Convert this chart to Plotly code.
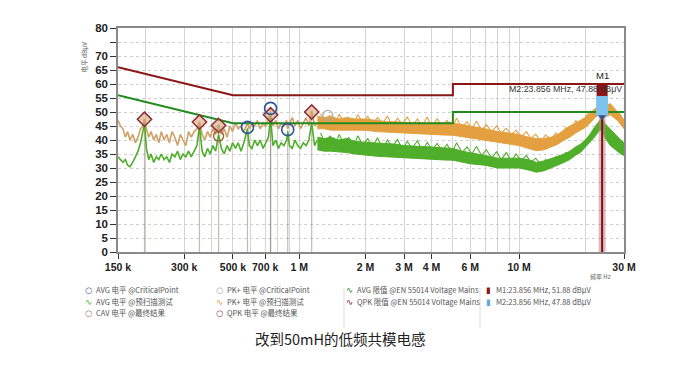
import math
import plotly.graph_objects as go

# ---------------- data ----------------
# low-frequency scan (kHz), single traces
F_L_kHz = [150,154,158,162,166,170,175,180,185,190,
           194,198,202,207,212,218,224,230,236,243,
           250,257,264,272,280,288,296,305,314,323,
           333,343,352,362,372,383,394,405,417,430,
           443,456,470,484,498,513,528,544,560,582,
           593,610,628,646,665,685,705,725,741,760,
           782,805,828,852,877,887,903,930,957,985,
           1014,1044,1075,1107,1140,1175,1210]
PK_L = [47,45,44,41,43,40,42,39,41,44,
        45,47.5,44,41,43,40,42,39,43,40,
        42,39,43,41,38,42,40,38,43,41,
        43,44,46.5,42,40,43,41,44,42,45.5,
        42,44,41,45,43,46,44,45,43,46,
        44,46,45,47,44,46,45,48,49.5,45,
        47,44,46,45,47,44,46,48,45,47,
        44,46,48,45,50.5,45,46]
AVG_L = [34,33,32,33,31,30.5,32,34,36,39,
         42,46,37,33,35,32,34,33,35,33,
         34,32,35,34,36,33,35,34,36,34,
         36,38,45,36,34,37,35,38,36,42,
         37,35,38,36,39,37,39,36,39,44,
         38,37,40,38,40,37,39,41,48,38,
         40,37,39,38,40,43,38,37,40,38,
         37,39,38,40,46,38,40]

# high-frequency scan (MHz): dense band envelopes
F_R_MHz = [1.21,1.3,1.4,1.5,1.65,1.8,2,2.25,2.5,2.75,
           3,3.5,4,4.5,5,5.5,6,7,8,9,
           10,11,12,13,14,15,16,17,18,19,
           20,21,22,23,23.856,24.5,25.2,26,27,28,
           29,30]
PK_HI = [48.5,48,48.5,47.5,48,47.5,47.5,47,46.5,46.5,
         46.3,46,46,46,46,45.5,45,44,43,42.5,
         42,41,40.5,40.5,41,42,43.5,45,46,47,
         48,49.5,51,52,52.5,52,52.5,53,51.5,50,
         49,47]
PK_LO = [44,44,43.5,43.5,43.5,43.5,43.5,43,42.8,42.6,
         42.4,42.2,42,41.8,41.7,41.2,40.8,40,39.2,38.5,
         38,37,36.2,36.5,37.4,38.5,40,41,42.4,43.5,
         44.5,46,47.8,49,49.5,48.5,48.5,49,48,47,
         45.5,44]
AVG_HI = [41,40.5,41,40,40.5,39.5,39.2,39,38.8,38.5,
          38,37.8,37.5,37.2,37,36,35.5,34.5,33.5,33.5,
          33.5,33,32,32.5,33.5,34.2,35,36,37.4,38.5,
          40,42,44.5,46.5,48,46,45,44,42.5,41,
          40,39]
AVG_LO = [36.5,36,36,35.8,35.5,35,34.5,34.2,34,33.8,
          33.5,33.3,33,32.9,32.8,32,31.5,31,30,30,
          30,29.3,28.5,29,30,31,32,33,34.5,35.5,
          37.5,39,41,43,44,41,39.5,38,37,36,
          35,34.5]

# jagged edge of the dense scan (MHz)
F_S_MHz = [1.25,1.32,1.38,1.45,1.52,1.6,1.68,1.76,1.85,1.95,
           2.05,2.15,2.27,2.4,2.52,2.65,2.8,2.95,3.1,3.27,
           3.45,3.63,3.82,4.02,4.24,4.46,4.7,4.95,5.2,5.5,
           5.8,6.1,6.4,6.75,7.1,7.5,7.9,8.3,8.75,9.2,
           9.7,10.2,10.8,11.3,11.9,12.6,13.2,13.9,14.7,15.5,
           16.3,17.2,18.1,19.1,20.1,21.2]
PK_S = [49.5,46,48.8,45,49.2,46.5,48,45.5,49,46,
        48.5,45.5,48,46,48.6,45,47.8,45.5,48.2,45,
        47.5,45,48.2,44.5,47.6,45,47,44.5,47.8,44.5,
        46.5,44,46.8,43.5,45.5,43,45,42.5,44.2,42,
        43.5,41,43,40.5,42,39.5,41.8,40,42.5,41,
        44.5,42.5,47,44,48.5,50.5]
AVG_S = [42.5,38.5,41.5,38,42,38.5,41,37.5,41.5,38,
         40.5,37.5,40.8,37,40,37.5,40.2,36.5,39.5,37,
         39.8,36,39.2,36.5,38.8,36,38.5,35.5,39,35.5,
         37.5,35,37.8,34.5,36.5,33.5,35.8,33,35.5,32.5,
         35,32.5,34.5,32,33.5,31,33,31,34,32.5,
         35.5,34,37.5,36,40,42]

# limit lines (Hz, dBuV)
LIM_F = [150e3, 500e3, 5e6, 5e6, 30e6]
QPK_LIM = [66, 56, 56, 60, 60]
AVG_LIM = [56, 46, 46, 50, 50]

# final / critical points
QPK_FIN_F = [198e3, 352e3, 430e3, 741e3, 1140e3]
QPK_FIN_V = [47.4, 46.4, 45.2, 49.0, 50.0]
AVG_CP_F = [582e3, 741e3, 887e3]
AVG_CP_V = [44.5, 51.3, 43.7]
CAV_FIN_F = [430e3]
CAV_FIN_V = [41.4]
PK_CP_F = [1.35e6]
PK_CP_V = [48.8]

MARK_F = 23.856e6
M1_V = 51.88
M2_V = 47.88

X_TICKS = [150e3, 300e3, 500e3, 700e3, 1e6, 2e6, 3e6, 4e6, 6e6, 10e6, 30e6]
X_TEXT = ["150 k", "300 k", "500 k", "700 k", "1 M", "2 M", "3 M", "4 M", "6 M", "10 M", "30 M"]
X_MINOR = [2e5,3e5,4e5,5e5,6e5,7e5,8e5,9e5,1e6,2e6,3e6,4e6,5e6,6e6,7e6,8e6,9e6,1e7,2e7]
Y_TICKS = list(range(0, 85, 5))
Y_TEXT = ["" if v == 75 else str(v) for v in Y_TICKS]

# ---------------- figure ----------------
ORANGE = "#E4A040"
TAN = "#CFA066"
GREEN = "#4FAE2A"
DKRED = "#8B1414"
LIMGREEN = "#238A1E"

fig = go.Figure()

F_L = [f * 1e3 for f in F_L_kHz]
F_R = [f * 1e6 for f in F_R_MHz]
F_S = [f * 1e6 for f in F_S_MHz]

# drop lines below final / critical points
drop_x, drop_y = [], []
for f, v in zip(QPK_FIN_F + AVG_CP_F, QPK_FIN_V + AVG_CP_V):
    drop_x += [f, f, None]
    drop_y += [0, v, None]
fig.add_trace(go.Scatter(x=drop_x, y=drop_y, mode="lines",
                         line=dict(color="rgba(150,130,110,0.55)", width=1.2)))

# PK band (high freq)
fig.add_trace(go.Scatter(x=F_R, y=PK_LO, mode="lines",
                         line=dict(color=ORANGE, width=1)))
fig.add_trace(go.Scatter(x=F_R, y=PK_HI, mode="lines", fill="tonexty",
                         fillcolor=ORANGE, line=dict(color=ORANGE, width=1)))
fig.add_trace(go.Scatter(x=F_S, y=PK_S, mode="lines", line=dict(color=ORANGE, width=1.1)))
# AVG band (high freq)
fig.add_trace(go.Scatter(x=F_R, y=AVG_LO, mode="lines",
                         line=dict(color=GREEN, width=1)))
fig.add_trace(go.Scatter(x=F_R, y=AVG_HI, mode="lines", fill="tonexty",
                         fillcolor=GREEN, line=dict(color=GREEN, width=1)))
fig.add_trace(go.Scatter(x=F_S, y=AVG_S, mode="lines", line=dict(color=GREEN, width=1.1)))
# low-frequency traces
fig.add_trace(go.Scatter(x=F_L, y=PK_L, mode="lines", line=dict(color=TAN, width=1.6)))
fig.add_trace(go.Scatter(x=F_L, y=AVG_L, mode="lines", line=dict(color=GREEN, width=1.6)))

# limits
fig.add_trace(go.Scatter(x=LIM_F, y=QPK_LIM, mode="lines", line=dict(color=DKRED, width=2)))
fig.add_trace(go.Scatter(x=LIM_F, y=AVG_LIM, mode="lines", line=dict(color=LIMGREEN, width=2)))

# marker line at M1/M2
fig.add_trace(go.Scatter(x=[MARK_F, MARK_F], y=[0, 57], mode="lines",
                         line=dict(color="rgba(205,130,130,0.55)", width=7)))
fig.add_trace(go.Scatter(x=[MARK_F, MARK_F], y=[0, 57], mode="lines",
                         line=dict(color="#6E1A1A", width=2)))
fig.add_trace(go.Scatter(x=[MARK_F, MARK_F], y=[M2_V + 0.6, M2_V + 8], mode="lines",
                         line=dict(color="#7CC4EE", width=12)))
fig.add_trace(go.Scatter(x=[MARK_F], y=[M2_V + 0.3], mode="markers",
                         marker=dict(symbol="triangle-down", size=7, color="#3A4F8A")))
fig.add_trace(go.Scatter(x=[MARK_F], y=[57.7], mode="markers",
                         marker=dict(symbol="square", size=11, color=DKRED)))

# points
fig.add_trace(go.Scatter(x=QPK_FIN_F, y=QPK_FIN_V, mode="markers",
                         marker=dict(symbol="diamond", size=11, color="rgba(210,160,110,0.55)",
                                     line=dict(color="#8E2A38", width=1.5))))
fig.add_trace(go.Scatter(x=AVG_CP_F, y=AVG_CP_V, mode="markers",
                         marker=dict(symbol="circle-open", size=12,
                                     line=dict(color="#2F5597", width=1.6), color="#2F5597")))
fig.add_trace(go.Scatter(x=CAV_FIN_F, y=CAV_FIN_V, mode="markers",
                         marker=dict(symbol="circle-open", size=10,
                                     line=dict(color="#9A6A48", width=1.5), color="#9A6A48")))
fig.add_trace(go.Scatter(x=PK_CP_F, y=PK_CP_V, mode="markers",
                         marker=dict(symbol="circle-open", size=10,
                                     line=dict(color="#A8A8A8", width=1.2), color="#A8A8A8")))

# page has an 8 px body offset: work in page pixels, convert to figure
OFF = 8
W, H = 678, 369
L, R, T, B = 118 - OFF, 62, 28 - OFF, 125
PW, PH = W - L - R, H - T - B


def px(xp):
    return (xp - OFF - L) / PW


def py(yp):
    return (H - B - (yp - OFF)) / PH


ann = []
ann.append(dict(x=math.log10(MARK_F), y=63, xref="x", yref="y", text="M1",
                showarrow=False, font=dict(size=9.5, color="#222", family="Liberation Sans")))
ann.append(dict(x=math.log10(30e6), y=58.3, xref="x", yref="y", xanchor="right",
                text="M2:23.856 MHz, 47.88 dBμV", showarrow=False,
                font=dict(size=8.8, color="#333", family="Liberation Sans")))
ann.append(dict(x=px(76), y=py(40), xref="paper", yref="paper", text="电平 dBμV",
                textangle=-90, showarrow=False,
                font=dict(size=6.5, color="#666", family="Noto Sans CJK SC")))
ann.append(dict(x=px(613), y=py(283), xref="paper", yref="paper", text="频率 Hz",
                showarrow=False, font=dict(size=6, color="#666", family="Noto Sans CJK SC")))

LEG = [
    (88, 297, "○", "#2F5597", "AVG 电平 @CriticalPoint"),
    (88, 309, "∿", GREEN, "AVG 电平 @预扫描测试"),
    (88, 320, "○", "#9A6A48", "CAV 电平 @最终结果"),
    (219, 297, "○", "#A0A0A0", "PK+ 电平 @CriticalPoint"),
    (219, 309, "∿", ORANGE, "PK+ 电平 @预扫描测试"),
    (219, 320, "○", "#8E2A38", "QPK 电平 @最终结果"),
    (349, 297, "∿", LIMGREEN, "AVG 限值 @EN 55014 Voltage Mains"),
    (349, 309, "∿", DKRED, "QPK 限值 @EN 55014 Voltage Mains"),
    (488, 297, "▮", DKRED, "M1:23.856 MHz, 51.88 dBμV"),
    (488, 309, "▮", "#5AA8E0", "M2:23.856 MHz, 47.88 dBμV"),
]
for xi, yi, sym, col, txt in LEG:
    ann.append(dict(x=px(xi), y=py(yi), xref="paper", yref="paper", text=sym,
                    showarrow=False, xanchor="center",
                    font=dict(size=8.5, color=col, family="DejaVu Sans")))
    ann.append(dict(x=px(xi + 6), y=py(yi), xref="paper", yref="paper", text=txt,
                    showarrow=False, xanchor="left",
                    font=dict(size=7.5, color="#555", family="Noto Sans CJK SC")))

ann.append(dict(x=px(340), y=py(351), xref="paper", yref="paper",
                text="改到50mH的低频共模电感", showarrow=False,
                font=dict(size=14.5, color="#222", family="Noto Sans CJK SC")))

shapes = []
for xs in (344, 480):
    shapes.append(dict(type="line", xref="paper", yref="paper",
                       x0=px(xs), x1=px(xs), y0=py(288), y1=py(328),
                       line=dict(color="#DDDDDD", width=1)))

fig.update_layout(
    width=W, height=H, margin=dict(l=L, r=R, t=T, b=B, autoexpand=False),
    paper_bgcolor="white", plot_bgcolor="white", showlegend=False,
    hovermode=False, annotations=ann, shapes=shapes,
    xaxis=dict(type="log", range=[math.log10(150e3), math.log10(30e6)],
               tickvals=X_TICKS, ticktext=["<b>%s</b>" % t for t in X_TEXT],
               ticks="outside", ticklen=5, tickcolor="#333",
               tickfont=dict(size=10.5, color="#222", family="Liberation Sans"),
               showgrid=True, gridcolor="#D4D4D4", gridwidth=1,
               minor=dict(tickvals=X_MINOR, showgrid=True, gridcolor="#D4D4D4", ticks=""),
               showline=True, linecolor="#8A8A8A", linewidth=1.5, mirror=True,
               zeroline=False),
    yaxis=dict(range=[0, 80], tickvals=Y_TICKS,
               ticktext=["<b>%s</b>" % t if t else "" for t in Y_TEXT],
               ticks="outside", ticklen=6, tickcolor="#333",
               tickfont=dict(size=11.5, color="#222", family="Liberation Sans"),
               showgrid=True, gridcolor="#CFCFCF", griddash="dot", gridwidth=1,
               showline=True, linecolor="#8A8A8A", linewidth=1.5, mirror=True,
               zeroline=False),
)

fig.write_html("out.html")
